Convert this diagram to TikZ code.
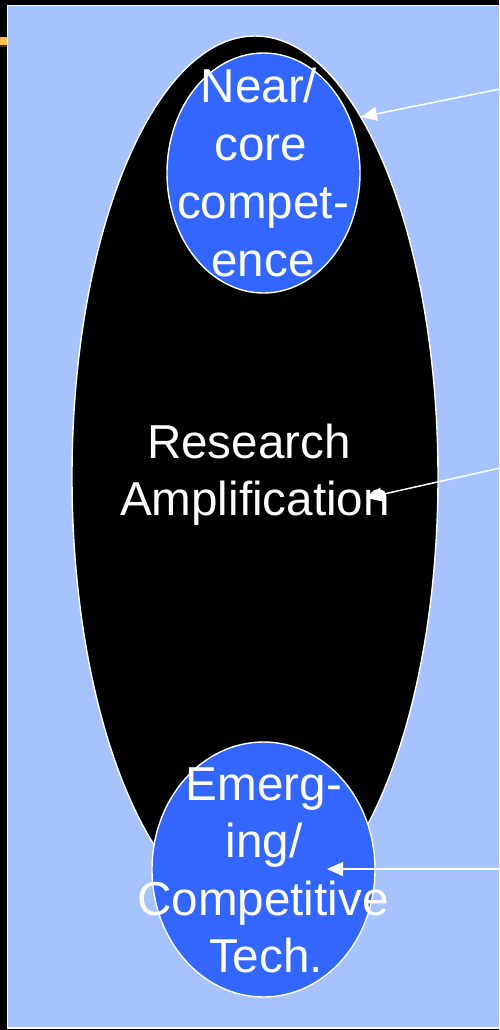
\documentclass[tikz,border=0pt]{standalone}
\usepackage{fontspec}
\setmainfont{Liberation Sans}
\usetikzlibrary{shapes.geometric,arrows.meta}
\definecolor{slidebg}{RGB}{166,194,255}
\definecolor{discblue}{RGB}{51,102,255}
\definecolor{barorange}{RGB}{255,192,80}
\definecolor{bargray}{RGB}{50,50,50}
\tikzset{
  blob/.style={ellipse, draw=white, line width=1.4pt, inner sep=0pt},
  lbl/.style={text=white, anchor=base, inner sep=0pt, font=\fontsize{47.6}{57}\selectfont},
  pointer/.style={draw=white, line width=1.5pt, -{Triangle[length=16pt,width=14pt]}}
}
\begin{document}
\begin{tikzpicture}[x=1pt,y=-1pt]
\useasboundingbox (0,0) rectangle (499,1030);
\fill[black] (0,0) rectangle (499,1030);
\clip (0,0) rectangle (499,1030);
\fill[barorange] (0,37) rectangle (7,45);
\fill[bargray] (0,45) rectangle (7,47);
\draw[white, line width=1.2pt, fill=slidebg] (7.5,5.5) rectangle (520,1028);
% ellipses
\node[blob, fill=black, minimum width=366pt, minimum height=882pt] (research) at (255,477) {};
\node[blob, fill=discblue, minimum width=193pt, minimum height=240pt] (core) at (263.5,173) {};
\node[blob, fill=discblue, minimum width=223pt, minimum height=255pt] (emerging) at (263.5,869.5) {};
% labels
\node[lbl] (c1) at (259,103) {Near/};
\node[lbl] (c2) at (261,160) {core};
\node[lbl] (c3) at (263,218) {compet-};
\node[lbl] (c4) at (263,276) {ence};
\node[lbl] (r1) at (249,458) {Research};
\node[lbl] (r2) at (255,515) {Amplification};
\node[lbl] (e1) at (264,800) {Emerg-};
\node[lbl] (e2) at (264,857) {ing/};
\node[lbl] (e3) at (263,915) {Competitive};
\node[lbl] (e4) at (266,972) {Tech.};
% arrows
\coordinate (s1) at (500,89);
\coordinate (t1) at (361,117);
\coordinate (s2) at (500,468);
\coordinate (t2) at (366,498);
\coordinate (s3) at (500,869);
\coordinate (t3) at (327,869);
\draw[pointer] (s1) -- (t1);
\draw[pointer] (s2) -- (t2);
\draw[pointer] (s3) -- (t3);
\end{tikzpicture}
\end{document}
